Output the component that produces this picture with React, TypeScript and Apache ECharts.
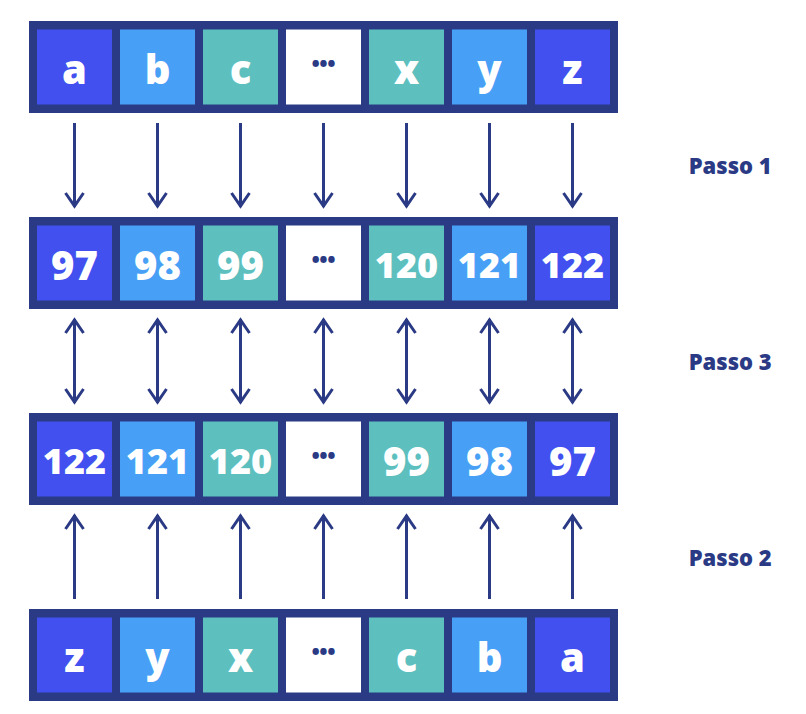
import React, { useEffect, useRef } from 'react';
import * as echarts from 'echarts';

const rowLabels: string[][] = [
  ['a', 'b', 'c', '...', 'x', 'y', 'z'],
  ['97', '98', '99', '...', '120', '121', '122'],
  ['122', '121', '120', '...', '99', '98', '97'],
  ['z', 'y', 'x', '...', 'c', 'b', 'a'],
];
const rowColors: string[][] = [
  ['#4150EF', '#48A0F6', '#5EBFBF', '#FFFFFF', '#5EBFBF', '#48A0F6', '#4150EF'],
  ['#4150EF', '#48A0F6', '#5EBFBF', '#FFFFFF', '#5EBFBF', '#48A0F6', '#4150EF'],
  ['#4150EF', '#48A0F6', '#5EBFBF', '#FFFFFF', '#5EBFBF', '#48A0F6', '#4150EF'],
  ['#4150EF', '#48A0F6', '#5EBFBF', '#FFFFFF', '#5EBFBF', '#48A0F6', '#4150EF'],
];
// arrows between row i and i+1: 'down', 'both', 'up'
const arrowKinds: string[] = ['down', 'both', 'up'];
const stepLabels: string[] = ['Passo 1', 'Passo 3', 'Passo 2'];

const NAVY = '#2B3A85';
const FONT = '"Open Sans", Lato, sans-serif';

const App: React.FC = () => {
  const chartRef = useRef<HTMLDivElement>(null);

  useEffect(() => {
    if (!chartRef.current) return;
    const chart = echarts.init(chartRef.current, undefined, { renderer: 'svg' });

    const cells: any[] = [];
    rowLabels.forEach((row, r) => row.forEach((t, c) => cells.push([c, r, t, rowColors[r][c]])));
    const frames = rowLabels.map((_, r) => [r]);
    const arrows: any[] = [];
    arrowKinds.forEach((k, r) => {
      for (let c = 0; c < 7; c++) arrows.push([c, r + 0.5, k]);
    });
    const steps = stepLabels.map((s, r) => [7.9, r + 0.5, s]);

    chart.setOption({
      animation: false,
      grid: { left: 0, right: 0, top: 0, bottom: 0 },
      xAxis: { type: 'value', min: -74.5 / 83, max: (806 - 74.5) / 83, show: false },
      yAxis: { type: 'value', min: -67 / 196, max: (714 - 67) / 196, inverse: true, show: false },
      series: [
        {
          type: 'custom',
          data: frames,
          renderItem: (params: any, api: any) => {
            const r = api.value(0);
            const [x0, y] = api.coord([0, r]);
            const [x6] = api.coord([6, r]);
            return {
              type: 'rect',
              shape: { x: x0 - 45.5, y: y - 46, width: x6 - x0 + 91, height: 92 },
              style: { fill: NAVY },
            };
          },
        },
        {
          type: 'custom',
          data: cells,
          z: 3,
          renderItem: (params: any, api: any) => {
            const [x, y] = api.coord([api.value(0), api.value(1)]);
            const t = cells[params.dataIndex][2];
            const fill = cells[params.dataIndex][3];
            const dots = t === '...';
            return {
              type: 'group',
              children: [
                { type: 'rect', shape: { x: x - 37.5, y: y - 37.5, width: 75, height: 75 }, style: { fill } },
                {
                  type: 'text',
                  style: {
                    x, y: dots ? y - 4 : y + 1, text: dots ? '•••' : t,
                    fill: dots ? NAVY : '#FFFFFF',
                    font: `800 ${dots ? 20 : t.length === 3 ? 36 : 40}px ${FONT}`,
                    align: 'center', verticalAlign: 'middle',
                  },
                },
              ],
            };
          },
        },
        {
          type: 'custom',
          data: arrows,
          renderItem: (params: any, api: any) => {
            const [x, y] = api.coord([api.value(0), api.value(1)]);
            const kind = arrows[params.dataIndex][2];
            const top = y - 42, bot = y + 42;
            const st = { stroke: NAVY, lineWidth: 3, fill: 'none' };
            const children: any[] = [{ type: 'line', shape: { x1: x, y1: top, x2: x, y2: bot }, style: st }];
            if (kind === 'down' || kind === 'both')
              children.push({ type: 'polyline', shape: { points: [[x - 9, bot - 14], [x, bot - 1], [x + 9, bot - 14]] }, style: st });
            if (kind === 'up' || kind === 'both')
              children.push({ type: 'polyline', shape: { points: [[x - 9, top + 14], [x, top + 1], [x + 9, top + 14]] }, style: st });
            return { type: 'group', children };
          },
        },
        {
          type: 'custom',
          data: steps,
          renderItem: (params: any, api: any) => {
            const [x, y] = api.coord([api.value(0), api.value(1)]);
            return {
              type: 'text',
              style: {
                x, y, text: steps[params.dataIndex][2], fill: NAVY,
                font: `800 22px ${FONT}`, align: 'center', verticalAlign: 'middle',
              },
            };
          },
        },
      ],
    });

    return () => chart.dispose();
  }, []);

  return <div ref={chartRef} style={{ position: 'fixed', left: 0, top: 0, width: '806px', height: '714px', background: '#fff' }} />;
};

export default App;
